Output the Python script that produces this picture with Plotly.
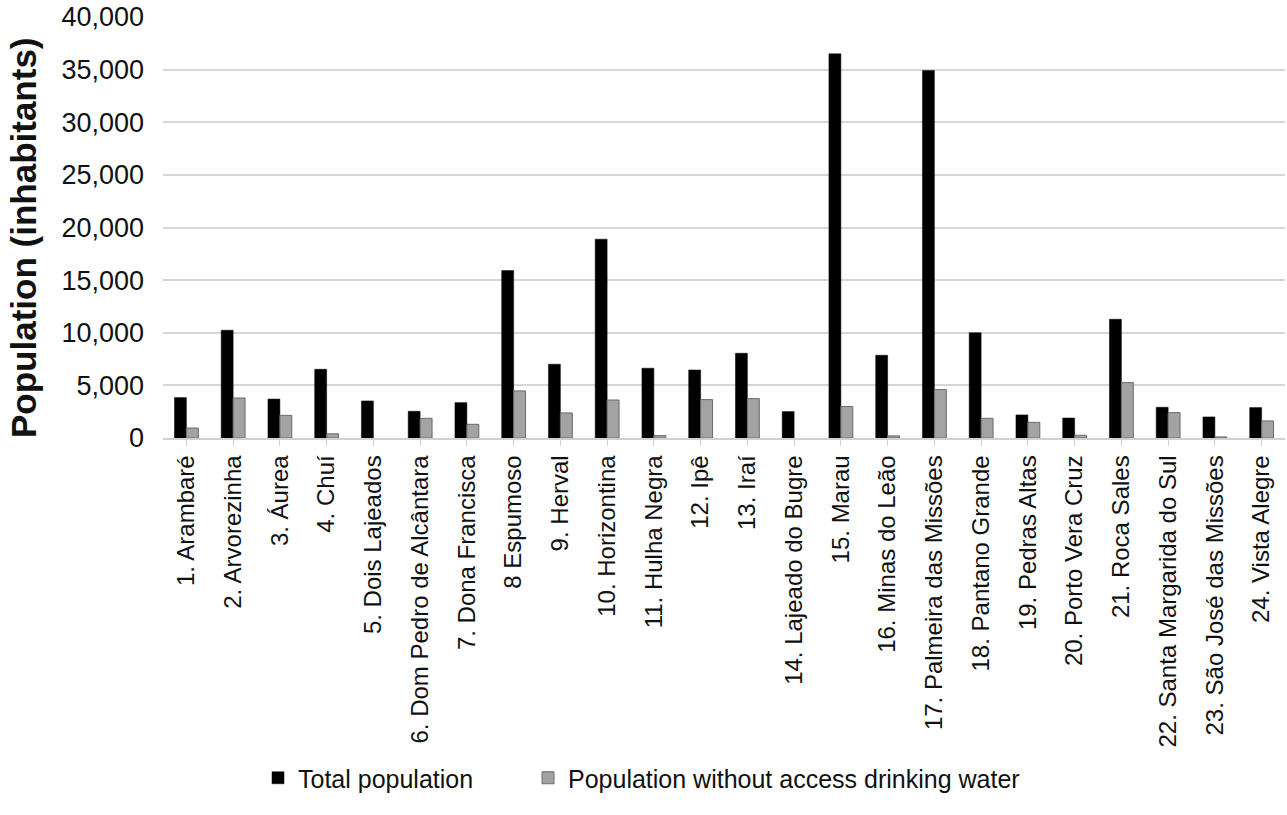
import plotly.graph_objects as go

# Municipalities (x-axis categories)
municipalities = [
    "1. Arambaré", "2. Arvorezinha", "3. Áurea", "4. Chuí", "5. Dois Lajeados",
    "6. Dom Pedro de Alcântara", "7. Dona Francisca", "8 Espumoso", "9. Herval",
    "10. Horizontina", "11. Hulha Negra", "12. Ipê", "13. Iraí",
    "14. Lajeado do Bugre", "15. Marau", "16. Minas do Leão",
    "17. Palmeira das Missões", "18. Pantano Grande", "19. Pedras Altas",
    "20. Porto Vera Cruz", "21. Roca Sales", "22. Santa Margarida do Sul",
    "23. São José das Missões", "24. Vista Alegre",
]

# Inhabitants per municipality
total_population = [
    3840, 10240, 3700, 6530, 3520, 2540, 3360, 15910, 7010, 18890, 6630, 6460,
    8050, 2510, 36500, 7860, 34920, 10000, 2190, 1900, 11280, 2920, 2000, 2890,
]
without_drinking_water = [
    950, 3800, 2150, 400, 0, 1870, 1300, 4470, 2380, 3610, 230, 3650,
    3740, 0, 2990, 200, 4600, 1870, 1490, 260, 5260, 2410, 100, 1620,
]

series_names = ["Total population", "Population without access drinking water"]
y_ticks = [0, 5000, 10000, 15000, 20000, 25000, 30000, 35000, 40000]
y_title = "Population (inhabitants)"

FONT = "Liberation Sans, Arial, sans-serif"
TEXT = "#111111"

# No outline on empty bars, so a zero value leaves no sliver on the axis
gray_outline = [0 if v == 0 else 1 for v in without_drinking_water]

fig = go.Figure()
fig.add_trace(go.Bar(
    x=municipalities, y=total_population, name=series_names[0],
    marker=dict(color="#000000", line=dict(color="#000000", width=0.5)),
    legend="legend",
))
fig.add_trace(go.Bar(
    x=municipalities, y=without_drinking_water, name=series_names[1],
    marker=dict(color="#a3a3a3", line=dict(color="#6a6a6a", width=gray_outline)),
    legend="legend2",
))

# Rotated axis title, placed left of the tick labels
fig.add_annotation(
    text=f"<b>{y_title}</b>", textangle=-90,
    xref="paper", x=(23 - 163) / 1122, xanchor="center",
    yref="paper", y=(438 - 238) / 421, yanchor="middle",
    showarrow=False, font=dict(size=35, family=FONT, color=TEXT),
)

legend_style = dict(
    orientation="h", xref="container", yref="container",
    xanchor="left", y=1 - 778 / 815, yanchor="middle",
    font=dict(size=25, family=FONT, color=TEXT),
    itemwidth=30, bgcolor="rgba(0,0,0,0)",
)

fig.update_layout(
    width=1287, height=815,
    margin=dict(l=163, r=2, t=17, b=377),
    paper_bgcolor="#ffffff", plot_bgcolor="#ffffff",
    barmode="group", bargap=0.49, bargroupgap=0,
    font=dict(family=FONT, color=TEXT),
    showlegend=True,
    legend=dict(legend_style, x=258 / 1287),
    legend2=dict(legend_style, x=528 / 1287),
    xaxis=dict(
        type="category", tickangle=-90,
        tickfont=dict(size=24, family=FONT, color=TEXT),
        ticks="outside", ticklen=6, tickcolor="#d0d0d0", tickwidth=1,
        showline=True, linecolor="#d0d0d0", linewidth=1.5,
        showgrid=False, zeroline=False,
    ),
    yaxis=dict(
        range=[0, 40000], tickvals=y_ticks, tickformat=",",
        tickfont=dict(size=27, family=FONT, color=TEXT),
        ticklabelstandoff=18,
        showgrid=True, gridcolor="#d6d6d6", gridwidth=1.5,
        zeroline=False, showline=False,
    ),
)

fig.write_html("out.html")
